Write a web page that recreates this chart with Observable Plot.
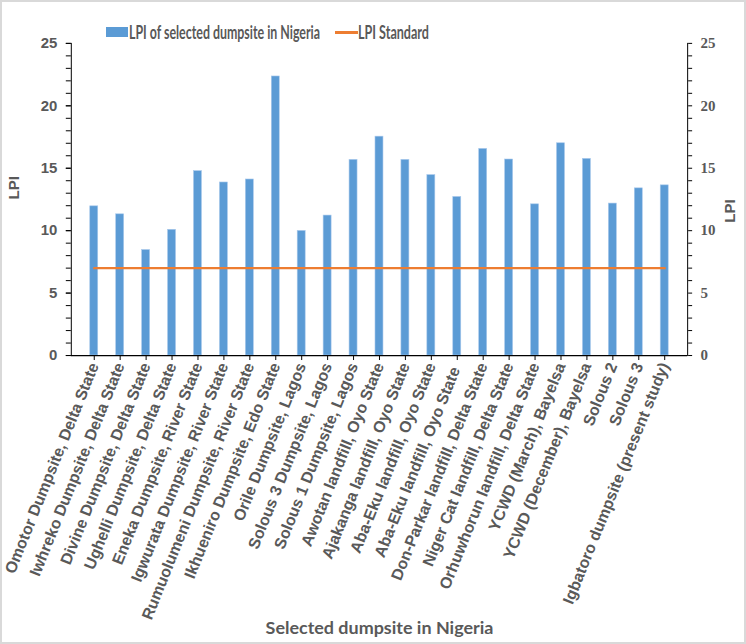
<!DOCTYPE html>
<html>
<head>
<meta charset="utf-8">
<script src="https://cdn.jsdelivr.net/npm/d3@7"></script>
<script src="https://cdn.jsdelivr.net/npm/@observablehq/plot@0.6"></script>
<style>
  html, body { margin: 0; padding: 0; background: #fff; }
  #wrap { position: relative; width: 746px; height: 644px; box-sizing: border-box; border: 2px solid #d9d9d9; overflow: hidden; }
  #chart { position: absolute; left: -2px; top: -2px; }
  .lg { position: absolute; font-family: Lato, "Open Sans", sans-serif; font-weight: bold; font-size: 18px; color: #595959; white-space: nowrap; line-height: 20px; transform-origin: 0 50%; }
  .sw-bar { position: absolute; left: 104px; top: 25px; width: 22px; height: 10px; background: #5b9bd5; }
  .sw-line { position: absolute; left: 333px; top: 29px; width: 23px; height: 2.5px; background: #ed7d31; }
</style>
</head>
<body>
<div id="wrap">
  <div id="chart"></div>
  <div class="sw-bar"></div>
  <div class="lg" id="lg1" style="left:127px; top:20px;">LPI of selected dumpsite in Nigeria</div>
  <div class="sw-line"></div>
  <div class="lg" id="lg2" style="left:356px; top:20px;">LPI Standard</div>
</div>
<script>
const sites = [
  "Omotor Dumpsite, Delta State",
  "Iwhreko Dumpsite, Delta State",
  "Divine Dumpsite, Delta State",
  "Ughelli Dumpsite, Delta State",
  "Eneka Dumpsite, River State",
  "Igwurata Dumpsite, River State",
  "Rumuolumeni Dumpsite, River State",
  "Ikhueniro Dumpsite, Edo State",
  "Orile Dumpsite, Lagos",
  "Solous 3 Dumpsite, Lagos",
  "Solous 1 Dumpsite, Lagos",
  "Awotan landfill, Oyo State",
  "Ajakanga landfill, Oyo State",
  "Aba-Eku landfill, Oyo State",
  "Aba-Eku landfill, Oyo State ",
  "Don-Parkar landfill, Delta State",
  "Niger Cat landfill, Delta State",
  "Orhuwhorun landfill, Delta State",
  "YCWD (March), Bayelsa",
  "YCWD (December), Bayelsa",
  "Solous 2",
  "Solous 3",
  "Igbatoro dumpsite (present study)"
];
const lpiValues = [11.95, 11.31, 8.45, 10.07, 14.77, 13.86, 14.1, 22.35, 9.98, 11.21, 15.67, 17.53, 15.67, 14.45, 12.7, 16.55, 15.7, 12.11, 17.0, 15.75, 12.17, 13.39, 13.63];
const lpiStandard = [7, 7, 7, 7, 7, 7, 7, 7, 7, 7, 7, 7, 7, 7, 7, 7, 7, 7, 7, 7, 7, 7, 7];
const majorTicks = [0, 5, 10, 15, 20, 25];
const minorTicks = d3.range(0, 26, 1);

const table = sites.map((s, i) => ({site: s, lpi: lpiValues[i], std: lpiStandard[i]}));

const textColor = "#595959";
const sansBold = "'Liberation Sans', Arial, sans-serif";
const serifBold = "'Liberation Serif', 'DejaVu Serif', 'Times New Roman', serif";

const chart = Plot.plot({
  width: 746,
  height: 644,
  marginLeft: 71,
  marginRight: 57,
  marginTop: 43,
  marginBottom: 288,
  style: {background: "transparent", overflow: "visible", fontFamily: sansBold, fontWeight: "bold"},
  x: {domain: sites, paddingInner: 0.68, paddingOuter: 0.34, label: null},
  y: {domain: [0, 25], label: null},
  marks: [
    Plot.barY(table, {x: "site", y: "lpi", fill: "#5b9bd5", stroke: "#a9c9ec", strokeWidth: 0.6}),
    Plot.lineY(table, {x: "site", y: "std", stroke: "#ed7d31", strokeWidth: 2.4}),
    Plot.frame({anchor: "left", stroke: "#000"}),
    Plot.frame({anchor: "right", stroke: "#000"}),
    Plot.ruleY([0], {stroke: "#000", strokeWidth: 1.2}),
    Plot.axisY(minorTicks, {anchor: "left", tickSize: 5, text: null, stroke: "#000"}),
    Plot.axisY(majorTicks, {anchor: "left", tickSize: 5, tickPadding: 9, stroke: "#000", fill: textColor, fontSize: 15, label: null}),
    Plot.axisY(minorTicks, {anchor: "right", tickSize: 4, text: null, stroke: "#000"}),
    Plot.text(majorTicks, {y: (d) => d, text: (d) => String(d), frameAnchor: "right", dx: 13, textAnchor: "start", fill: textColor, fontSize: 15, fontWeight: "bold", fontFamily: serifBold}),
    Plot.axisX({anchor: "bottom", tickSize: 5, tickPadding: 3, tickRotate: -68, stroke: "#000", fill: textColor, fontSize: 16, label: null}),
    Plot.text(["LPI"], {frameAnchor: "left", dx: -57, rotate: -90, fill: textColor, fontSize: 15}),
    Plot.text(["LPI"], {frameAnchor: "right", dx: 43, rotate: -90, fill: textColor, fontSize: 15}),
    Plot.text(["Selected dumpsite in Nigeria"], {frameAnchor: "bottom", dy: 279, fill: textColor, fontSize: 18, fontFamily: "Lato, 'Open Sans', sans-serif"})
  ]
});
document.getElementById("chart").appendChild(chart);

// fit legend text widths to the reference
function fit(id, w) {
  const el = document.getElementById(id);
  const cur = el.getBoundingClientRect().width;
  el.style.transform = `scaleX(${w / cur})`;
}
fit("lg1", 191);
fit("lg2", 71);
</script>
</body>
</html>
